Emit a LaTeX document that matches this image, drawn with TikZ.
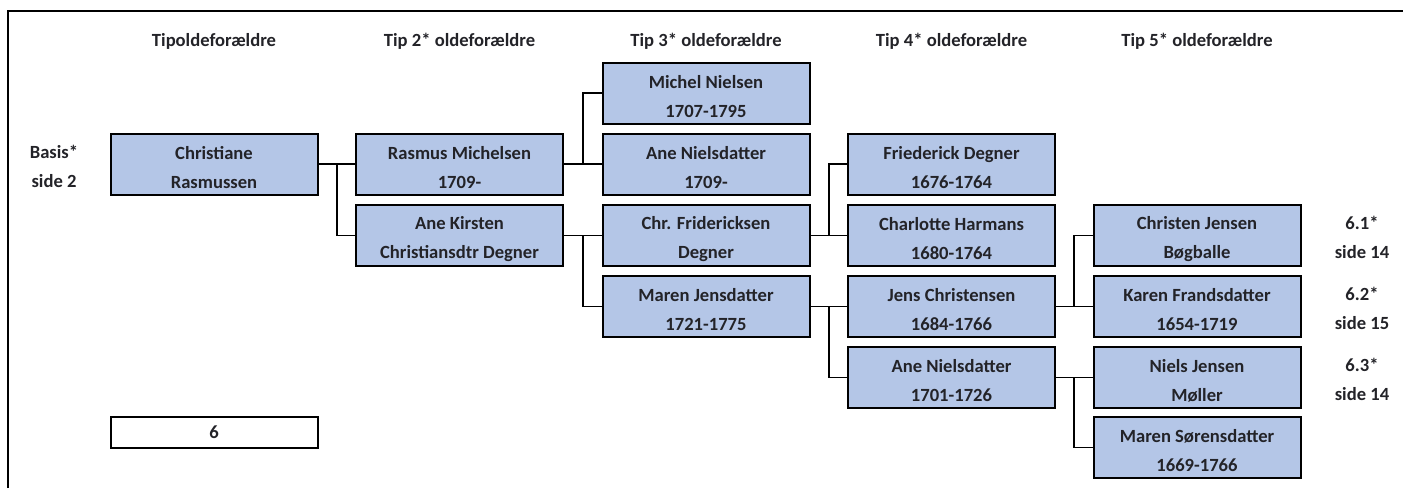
\documentclass[tikz,border=0pt]{standalone}
\usepackage{fontspec}
\setmainfont{Carlito}
\usetikzlibrary{calc,positioning}
\usepackage{xcolor}
\definecolor{boxblue}{RGB}{180,198,231}
\definecolor{inkgray}{RGB}{35,35,40}

\begin{document}
\begin{tikzpicture}[x=0.5pt,y=-0.5pt,
    person/.style={draw, line width=1pt, fill=boxblue, text=inkgray,
        minimum width=103.5pt, minimum height=30.5pt, inner sep=0pt,
        align=center, font=\bfseries\fontsize{9.3}{14.5}\selectfont},
    sixbox/.style={draw, line width=1pt, fill=white, text=inkgray,
        minimum width=103.5pt, minimum height=15.5pt, inner sep=0pt,
        font=\bfseries\fontsize{9.3}{14.5}\selectfont},
    side/.style={align=center, text=inkgray, inner sep=0pt,
        font=\bfseries\fontsize{9.3}{14.5}\selectfont},
    link/.style={line width=0.9pt},
    frame/.style={line width=1pt}]

    \useasboundingbox (0,0) rectangle (1403,488);

    % outer frame (top and left edges only)
    \draw[frame] (8,488) -- (8,11) -- (1403,11);

    % generation headings
    \foreach \nm/\x/\txt in {h1/214/Tipoldeforældre, h2/459.5/Tip 2* oldeforældre,
                             h3/706/Tip 3* oldeforældre, h4/951.5/Tip 4* oldeforældre,
                             h5/1197/Tip 5* oldeforældre} {
        \node[side] (\nm) at (\x,41) {\txt};
    }

    % the persons
    \foreach \nm/\x/\y/\txt in {
            chr/214/164/{Christiane\\Rasmussen},
            rm/459.5/164/{Rasmus Michelsen\\1709-},
            ak/459.5/235.5/{Ane Kirsten\\Christiansdtr Degner},
            mn/706/93/{Michel Nielsen\\1707-1795},
            an/706/164/{Ane Nielsdatter\\1709-},
            cf/706/235.5/{Chr. Fridericksen\\Degner},
            mj/706/306.5/{Maren Jensdatter\\1721-1775},
            fd/951.5/164/{Friederick Degner\\1676-1764},
            ch/951.5/235.5/{Charlotte Harmans\\1680-1764},
            jc/951.5/306.5/{Jens Christensen\\1684-1766},
            anb/951.5/377.5/{Ane Nielsdatter\\1701-1726},
            cj/1197/235.5/{Christen Jensen\\Bøgballe},
            kf/1197/306.5/{Karen Frandsdatter\\1654-1719},
            nj/1197/377.5/{Niels Jensen\\Møller},
            ms/1197/447.5/{Maren Sørensdatter\\1669-1766}} {
        % the strut pushes the two lines a little lower in the box
        \node[person] (\nm) at (\x,\y) {\rule{0pt}{10pt}\txt};
    }

    % child -> father (same row) and mother
    \foreach \a/\b/\c in {chr/rm/ak, rm/an/mn, ak/cf/mj, cf/ch/fd,
                          mj/jc/anb, jc/kf/cj, anb/nj/ms} {
        \draw[link] (\a.east) -- (\b.west);
        \draw[link] ($(\a.east)!0.5!(\b.west)$) |- (\c.west);
    }

    % page references
    \node[side] (basis) at (54,166.5) {Basis*\\side 2};
    \node[side] (r1) at (1362,237.5) {6.1*\\side 14};
    \node[side] (r2) at (1362,308.5) {6.2*\\side 15};
    \node[side] (r3) at (1362,379.5) {6.3*\\side 14};

    \node[sixbox] (six) at (214,432.5) {6};

\end{tikzpicture}
\end{document}
